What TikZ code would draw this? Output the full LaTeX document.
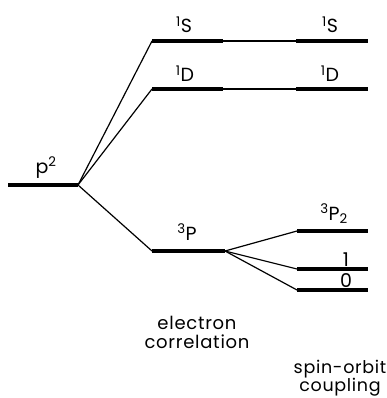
\documentclass[tikz,border=0pt]{standalone}
\usepackage{fontspec}
\setmainfont{Poppins}[LetterSpace=4]
\tikzset{
  level/.style={line width=3.2pt},
  link/.style={line width=1.2pt},
  term/.style={font=\fontsize{19}{19}\selectfont, inner sep=0pt, anchor=base},
  caption/.style={font=\fontsize{18}{19}\selectfont, align=center, inner sep=0pt},
}
\begin{document}
\begin{tikzpicture}[x=1pt,y=-1pt]
  \useasboundingbox (0,0) rectangle (387,398);
  % level end points
  \coordinate (p2L) at (8,185);   \coordinate (p2R) at (78,185);
  \coordinate (S1L) at (152,41);  \coordinate (S1R) at (223,41);
  \coordinate (S2L) at (296,41);  \coordinate (S2R) at (368,41);
  \coordinate (D1L) at (152,89);  \coordinate (D1R) at (223,89);
  \coordinate (D2L) at (296,89);  \coordinate (D2R) at (368,89);
  \coordinate (PL)  at (152,251); \coordinate (PR)  at (225,251);
  \coordinate (J2L) at (297,231); \coordinate (J2R) at (368,231);
  \coordinate (J1L) at (297,269); \coordinate (J1R) at (368,269);
  \coordinate (J0L) at (297,290); \coordinate (J0R) at (368,290);
  % levels
  \foreach \a/\b in {p2L/p2R, S1L/S1R, S2L/S2R, D1L/D1R, D2L/D2R, PL/PR, J2L/J2R, J1L/J1R, J0L/J0R}
    \draw[level] (\a) -- (\b);
  % connectors
  \draw[link] (S1R) -- (S2L);
  \draw[link] (D1R) -- (D2L);
  \draw[link] (p2R) -- (S1L);
  \draw[link] (p2R) -- (D1L);
  \draw[link] (p2R) -- (PL);
  \foreach \j in {J2L, J1L, J0L}
    \draw[link] (PR) -- (\j);
  % term labels
  \node[term] (p2)  at (46,173)  {p\textsuperscript{2}};
  \node[term] (S1)  at (184,33)  {\textsuperscript{1}S};
  \node[term] (S2)  at (330,33)  {\textsuperscript{1}S};
  \node[term] (D1)  at (185,82)  {\textsuperscript{1}D};
  \node[term] (D2)  at (330,82)  {\textsuperscript{1}D};
  \node[term] (P)   at (187,240) {\textsuperscript{3}P};
  \node[term] (P2)  at (334,220) {\textsuperscript{3}P\textsubscript{2}};
  \node[term] (J1)  at (346,266) {1};
  \node[term] (J0)  at (346,287) {0};
  % captions
  \node[caption] (corr) at (197,332) {electron\\correlation};
  \node[caption, font=\fontsize{17.5}{18}\selectfont] (soc) at (340,378) {spin-orbit\\coupling};
\end{tikzpicture}
\end{document}
